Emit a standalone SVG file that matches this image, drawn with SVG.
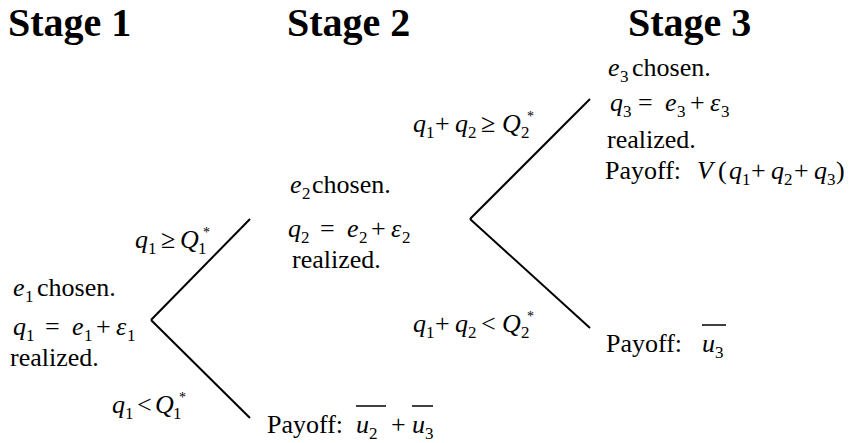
<svg xmlns="http://www.w3.org/2000/svg" width="850" height="443" viewBox="0 0 850 443">
<rect width="850" height="443" fill="#fff"/>
<g id="headers" fill="#000">
<text font-family="Times New Roman" font-size="40" font-weight="bold" x="8" y="36">Stage 1</text>
<text font-family="Times New Roman" font-size="40" font-weight="bold" x="287" y="36">Stage 2</text>
<text font-family="Times New Roman" font-size="40" font-weight="bold" x="628" y="36">Stage 3</text>
</g>
<g id="connectors" stroke="#000" stroke-width="2" fill="none">
<line x1="151" y1="320" x2="250" y2="219"/>
<line x1="151" y1="320" x2="250" y2="418"/>
<line x1="470" y1="219" x2="590" y2="99"/>
<line x1="470" y1="219" x2="590" y2="328"/>
</g>
<g id="labels" fill="#000">
<g id="edge-labels">
<text font-family="Times New Roman" font-size="26"><tspan font-style="italic" x="135" y="248">q</tspan><tspan font-size="17" x="148" y="254">1</tspan><tspan x="161" y="248">&#8805;</tspan><tspan font-style="italic" x="180" y="248">Q</tspan><tspan font-size="17" x="198" y="254">1</tspan><tspan font-size="14" x="203" y="237">*</tspan></text>
<text font-family="Times New Roman" font-size="26"><tspan font-style="italic" x="112" y="413">q</tspan><tspan font-size="17" x="125" y="419">1</tspan><tspan x="137" y="413">&lt;</tspan><tspan font-style="italic" x="155" y="413">Q</tspan><tspan font-size="17" x="173" y="419">1</tspan><tspan font-size="14" x="179" y="402">*</tspan></text>
<text font-family="Times New Roman" font-size="26"><tspan font-style="italic" x="413" y="132">q</tspan><tspan font-size="17" x="426" y="138">1</tspan><tspan x="435" y="132">+</tspan><tspan font-style="italic" x="455" y="132">q</tspan><tspan font-size="17" x="468" y="138">2</tspan><tspan x="481" y="132">&#8805;</tspan><tspan font-style="italic" x="502" y="132">Q</tspan><tspan font-size="17" x="521" y="138">2</tspan><tspan font-size="14" x="527" y="121">*</tspan></text>
<text font-family="Times New Roman" font-size="26"><tspan font-style="italic" x="413" y="332">q</tspan><tspan font-size="17" x="426" y="338">1</tspan><tspan x="435" y="332">+</tspan><tspan font-style="italic" x="455" y="332">q</tspan><tspan font-size="17" x="468" y="338">2</tspan><tspan x="481" y="332">&lt;</tspan><tspan font-style="italic" x="502" y="332">Q</tspan><tspan font-size="17" x="521" y="338">2</tspan><tspan font-size="14" x="527" y="321">*</tspan></text>
</g>
<g id="node-stage1">
<text font-family="Times New Roman" font-size="26"><tspan font-style="italic" x="13" y="296">e</tspan><tspan font-size="17" x="25" y="302">1</tspan><tspan x="37" y="296">chosen.</tspan></text>
<text font-family="Times New Roman" font-size="26"><tspan font-style="italic" x="13" y="335">q</tspan><tspan font-size="17" x="26" y="341">1</tspan><tspan x="45" y="335">=</tspan><tspan font-style="italic" x="72" y="335">e</tspan><tspan font-size="17" x="84" y="341">1</tspan><tspan x="96" y="335">+</tspan><tspan font-style="italic" x="116" y="335">&#949;</tspan><tspan font-size="17" x="127" y="341">1</tspan></text>
<text font-family="Times New Roman" font-size="26" x="10" y="366">realized.</text>
</g>
<g id="node-stage2">
<text font-family="Times New Roman" font-size="26"><tspan font-style="italic" x="290" y="193">e</tspan><tspan font-size="17" x="302" y="199">2</tspan><tspan x="312" y="193">chosen.</tspan></text>
<text font-family="Times New Roman" font-size="26"><tspan font-style="italic" x="288" y="237">q</tspan><tspan font-size="17" x="301" y="243">2</tspan><tspan x="320" y="237">=</tspan><tspan font-style="italic" x="347" y="237">e</tspan><tspan font-size="17" x="359" y="243">2</tspan><tspan x="371" y="237">+</tspan><tspan font-style="italic" x="391" y="237">&#949;</tspan><tspan font-size="17" x="402" y="243">2</tspan></text>
<text font-family="Times New Roman" font-size="26" x="292" y="268">realized.</text>
</g>
<g id="node-stage1-payoff">
<text font-family="Times New Roman" font-size="26"><tspan x="267" y="433">Payoff:</tspan><tspan font-style="italic" x="356" y="433">u</tspan><tspan font-size="17" x="369" y="439">2</tspan><tspan x="391" y="433">+</tspan><tspan font-style="italic" x="412" y="433">u</tspan><tspan font-size="17" x="425" y="439">3</tspan></text>
<g stroke="#000" stroke-width="1.5"><line x1="356" y1="406" x2="386" y2="406"/><line x1="412" y1="406" x2="433" y2="406"/></g>
</g>
<g id="node-stage3">
<text font-family="Times New Roman" font-size="26"><tspan font-style="italic" x="608" y="76">e</tspan><tspan font-size="17" x="620" y="82">3</tspan><tspan x="632" y="76">chosen.</tspan></text>
<text font-family="Times New Roman" font-size="26"><tspan font-style="italic" x="610" y="111">q</tspan><tspan font-size="17" x="623" y="117">3</tspan><tspan x="638" y="111">=</tspan><tspan font-style="italic" x="665" y="111">e</tspan><tspan font-size="17" x="677" y="117">3</tspan><tspan x="690" y="111">+</tspan><tspan font-style="italic" x="710" y="111">&#949;</tspan><tspan font-size="17" x="721" y="117">3</tspan></text>
<text font-family="Times New Roman" font-size="26" x="607" y="148">realized.</text>
<text font-family="Times New Roman" font-size="26"><tspan x="605" y="179">Payoff:</tspan><tspan font-style="italic" x="697" y="179">V</tspan><tspan x="718" y="179">(</tspan><tspan font-style="italic" x="729" y="179">q</tspan><tspan font-size="17" x="742" y="185">1</tspan><tspan x="751" y="179">+</tspan><tspan font-style="italic" x="771" y="179">q</tspan><tspan font-size="17" x="784" y="185">2</tspan><tspan x="794" y="179">+</tspan><tspan font-style="italic" x="814" y="179">q</tspan><tspan font-size="17" x="827" y="185">3</tspan><tspan x="836" y="179">)</tspan></text>
</g>
<g id="node-stage2-payoff">
<text font-family="Times New Roman" font-size="26"><tspan x="606" y="352">Payoff:</tspan><tspan font-style="italic" x="702" y="352">u</tspan><tspan font-size="17" x="715" y="358">3</tspan></text>
<line stroke="#000" stroke-width="1.5" x1="702" y1="325" x2="726" y2="325"/>
</g>
</g>
</svg>
